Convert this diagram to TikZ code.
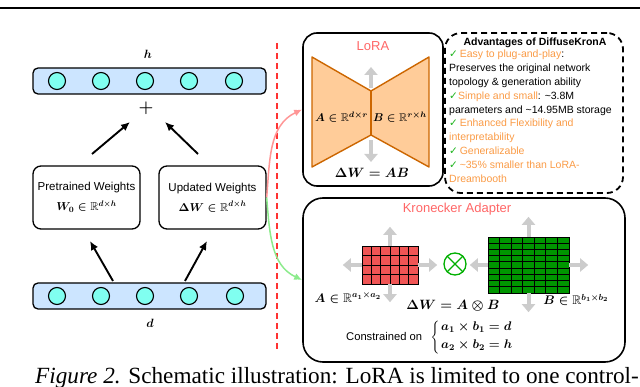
\documentclass[tikz,border=0pt]{standalone}
\usepackage{fix-cm}
\usepackage{amsmath,amssymb}
\usepackage[no-math]{fontspec}
\setmainfont{Liberation Serif}
\setsansfont{Liberation Sans}
\newfontfamily\symfont{DejaVu Sans}
\usetikzlibrary{arrows.meta,positioning,calc}
\definecolor{barblue}{RGB}{204,229,255}
\definecolor{unitcyan}{RGB}{128,255,240}
\definecolor{pinklabel}{RGB}{255,102,102}
\definecolor{advorange}{RGB}{250,155,70}
\definecolor{ckgreen}{RGB}{30,180,30}
\definecolor{bowfill}{RGB}{255,204,153}
\definecolor{bowline}{RGB}{204,102,0}
\definecolor{redcell}{RGB}{240,85,85}
\definecolor{greencell}{RGB}{0,150,0}
\definecolor{kronsym}{RGB}{0,175,0}
\definecolor{sideline}{RGB}{255,50,50}
\definecolor{toLoRA}{RGB}{255,150,150}
\definecolor{toKron}{RGB}{140,235,140}
\newcommand{\chk}{{\color{ckgreen}\symfont ✓}}
\newcommand{\advtext}[1]{{\color{advorange}#1}}
\tikzset{
  bar/.style={draw=black, line width=1.3pt, fill=barblue, rounded corners=5pt, minimum width=233pt, minimum height=26pt},
  unit/.style={circle, draw=black, line width=1.1pt, fill=unitcyan, minimum size=17pt, inner sep=0pt},
  wbox/.style={draw=black, line width=1.3pt, rounded corners=8pt, minimum width=107pt, minimum height=63pt, align=center, font=\sffamily\fontsize{11.5}{14}\selectfont},
  panel/.style={draw=black, line width=1.6pt, rounded corners=14pt},
  advpanel/.style={draw=black, line width=1.8pt, dash pattern=on 6pt off 4pt, rounded corners=16pt},
  panellabel/.style={font=\sffamily\fontsize{13}{15}\selectfont, text=pinklabel},
  mathlabel/.style={font=\boldmath\fontsize{12.5}{15}\selectfont, inner sep=1pt},
  arrow/.style={-{Latex[length=9pt,width=8pt]}, line width=1.9pt},
  grayarrow/.style={-{Triangle[length=8pt,width=13pt]}, line width=4pt, draw=black!20},
  cellred/.style={draw=black, line width=0.8pt, fill=redcell},
  cellgreen/.style={draw=black, line width=0.8pt, fill=greencell},
  bowtie/.style={draw=bowline, line width=1.4pt, fill=bowfill, line join=round}
}

\begin{document}
\begin{tikzpicture}[x=1pt,y=-1pt]
\useasboundingbox (0,0) rectangle (640,387);
\draw[line width=2pt] (0,8) -- (640,8);
% left: h = W0 d + dW d
\node[font=\boldmath\fontsize{12}{14}\selectfont] (hl) at (148,54) {$h$};
\node[bar] (top) at (149.5,81) {};
\foreach \k/\x in {1/57,2/101,3/145,4/189,5/234}
  \node[unit] (t\k) at (\x,81) {};
\node[font=\boldmath\fontsize{17}{17}\selectfont] (plus) at (146,108) {$+$};
\node[wbox] (pre) at (86.5,197.5) {Pretrained Weights\\[6pt]{\boldmath$W_0\in\mathbb{R}^{d\times h}$}};
\node[wbox] (upd) at (212.5,197.5) {Updated Weights\\[6pt]{\boldmath$\Delta W\in\mathbb{R}^{d\times h}$}};
\node[bar] (bot) at (149.5,296) {};
\foreach \k/\x in {1/57,2/101,3/145,4/189,5/235}
  \node[unit] (u\k) at (\x,296) {};
\node[font=\boldmath\fontsize{12}{14}\selectfont] (dl) at (150,323) {$d$};
\coordinate (pa) at (92,154);
\coordinate (pb) at (130,122);
\coordinate (ua) at (198,154);
\coordinate (ub) at (165,122);
\draw[arrow] (pa) -- (pb);
\draw[arrow] (ua) -- (ub);
\coordinate (da) at (113,281);
\coordinate (db) at (90,241);
\coordinate (dc) at (185,281);
\coordinate (dd) at (207,241);
\draw[arrow] (da) -- (db);
\draw[arrow] (dc) -- (dd);
\draw[sideline, line width=1.8pt, dash pattern=on 6pt off 4pt] (277,43) -- (277,350);
% LoRA
\node[panel, minimum width=140pt, minimum height=153pt] (lora) at (373,109.5) {};
\node[panellabel] (loralbl) at (373,46) {LoRA};
\draw[bowtie] (312,57) -- (371,91) -- (371,135) -- (312,167) -- cycle;
\draw[bowtie] (429,57) -- (371,91) -- (371,135) -- (429,167) -- cycle;
\draw[bowline, line width=2.6pt] (371,91) -- (371,135);
\draw[grayarrow] (371,88) -- (371,67);
\draw[grayarrow] (371,140) -- (371,162);
\node[mathlabel, font=\boldmath\fontsize{11.3}{14}\selectfont] (la) at (341.5,117) {$A\in\mathbb{R}^{d\times r}$};
\node[mathlabel, font=\boldmath\fontsize{11.3}{14}\selectfont] (lb) at (400,117) {$B\in\mathbb{R}^{r\times h}$};
\node[mathlabel, font=\boldmath\fontsize{13.5}{15}\selectfont] (lab) at (372,173) {$\Delta W = AB$};
% advantages
\node[advpanel, minimum width=178pt, minimum height=160pt] (adv) at (534,113) {};
\node[font=\sffamily\bfseries\fontsize{10.5}{13}\selectfont] (advt) at (535,43) {Advantages of DiffuseKronA};
\node[anchor=north west, align=left, inner sep=0pt, font=\sffamily\fontsize{10.5}{13.8}\selectfont] (advb) at (449,50) {%
\chk\,\advtext{Easy to plug-and-play}:\\
Preserves the original network\\
topology \& generation ability\\
\chk\advtext{Simple and small}: \textasciitilde3.8M\\
parameters and \textasciitilde14.95MB storage\\
\chk\,\advtext{Enhanced Flexibility and}\\
\advtext{interpretability}\\
\chk\,\advtext{Generalizable}\\
\chk\,\advtext{\textasciitilde35\% smaller than LoRA-}\\
\advtext{Dreambooth}};
% Kronecker adapter
\node[panel, rounded corners=20pt, minimum width=322pt, minimum height=164pt] (kron) at (464,280) {};
\node[panellabel] (kronlbl) at (457,209) {Kronecker Adapter};
\node[minimum width=56pt, minimum height=38pt, inner sep=0pt] (ma) at (390,265) {};
\foreach \i in {0,...,5}
  \foreach \j in {0,...,3}
    \draw[cellred] ({362+\i*9.333},{246+\j*9.5}) rectangle +(9.333,9.5);
\node[minimum width=81pt, minimum height=56pt, inner sep=0pt] (mb) at (528.5,265) {};
\foreach \i in {0,...,6}
  \foreach \j in {0,...,8}
    \draw[cellgreen] ({488+\i*11.571},{237+\j*6.222}) rectangle +(11.571,6.222);
\draw[grayarrow] (ma.north) -- ++(0,-19);
\draw[grayarrow] (ma.south) -- ++(0,18);
\draw[grayarrow] (ma.west) -- ++(-19,0);
\draw[grayarrow] (ma.east) -- ++(19,0);
\draw[grayarrow] (mb.north) -- ++(0,-20);
\draw[grayarrow] (mb.south) -- ++(0,19);
\draw[grayarrow] (mb.west) -- ++(-18,0);
\draw[grayarrow] (mb.east) -- ++(19,0);
\node[circle, draw=kronsym, line width=1.3pt, minimum size=22pt, inner sep=0pt] (ot) at (455,264) {};
\draw[kronsym, line width=1.3pt] (ot.45) -- (ot.225) (ot.135) -- (ot.315);
\node[mathlabel] (ka) at (348,298) {$A\in\mathbb{R}^{a_1\times a_2}$};
\node[mathlabel, font=\boldmath\fontsize{13.5}{15}\selectfont] (kab) at (453,306) {$\Delta W = A\otimes B$};
\node[mathlabel] (kb) at (576,300) {$B\in\mathbb{R}^{b_1\times b_2}$};
\node[anchor=west, inner sep=0pt, font=\sffamily\fontsize{11.2}{14}\selectfont] (cst) at (346,336) {Constrained on};
\node[font=\fontsize{11}{14}\selectfont, inner sep=0pt] (brc) at (435,338) {$\Bigg\{$};
\node[mathlabel, anchor=west] (eq1) at (440,327) {$a_1\times b_1 = d$};
\node[mathlabel, anchor=west] (eq2) at (440,345) {$a_2\times b_2 = h$};
% links
\draw[toLoRA, line width=1.5pt, -{Latex[length=8pt,width=7pt]}] (upd.east) to[out=85, in=205] (lora.west);
\draw[toKron, line width=1.5pt, -{Latex[length=8pt,width=7pt]}] (upd.east) to[out=-85, in=155] (kron.west);
% caption
\node[anchor=base west, inner sep=0pt, font=\fontsize{23.2}{26}\selectfont] (cap) at (35,383) {\textit{Figure 2.} Schematic illustration: LoRA is limited to one control-};
\end{tikzpicture}
\end{document}
